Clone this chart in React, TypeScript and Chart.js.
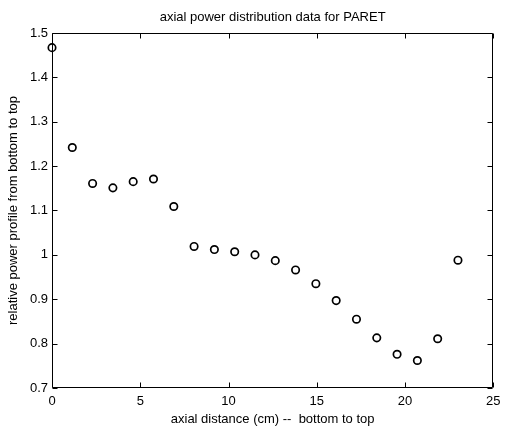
import React, { useEffect, useRef } from "react";
import { Chart, registerables } from "chart.js";

Chart.register(...registerables);

const titleText = "axial power distribution data for PARET";
const xTitle = "axial distance (cm) --  bottom to top";
const yTitle = "relative power profile from bottom to top";

const axialDistance = [0, 1.15, 2.3, 3.45, 4.6, 5.75, 6.9, 8.05, 9.2, 10.35, 11.5, 12.65, 13.8, 14.95, 16.1, 17.25, 18.4, 19.55, 20.7, 21.85, 23.0];
const relativePower = [1.467, 1.242, 1.161, 1.151, 1.165, 1.171, 1.109, 1.019, 1.012, 1.007, 1.0, 0.987, 0.966, 0.935, 0.897, 0.855, 0.813, 0.776, 0.762, 0.811, 0.988];

const xMin = 0;
const xMax = 25;
const xStep = 5;
const yMin = 0.7;
const yMax = 1.5;
const yStep = 0.1;

const FONT = "'Liberation Sans', Arial, Helvetica, sans-serif";

const framePlugin = {
  id: "matlabFrame",
  afterDraw(chart: any) {
    const { ctx, chartArea, scales } = chart;
    const { left, right, top, bottom } = chartArea;
    const xs = scales.x;
    const ys = scales.y;
    const L = Math.round(left) + 0.5;
    const R = Math.round(right) - 0.5;
    const T = Math.round(top) + 0.5;
    const B = Math.round(bottom) - 0.5;
    const tl = 5;
    ctx.save();
    ctx.strokeStyle = "#000";
    ctx.lineWidth = 1;
    ctx.beginPath();
    ctx.rect(L, T, R - L, B - T);
    xs.ticks.forEach((t: any) => {
      const px = Math.round(xs.getPixelForValue(t.value)) + 0.5;
      ctx.moveTo(px, B);
      ctx.lineTo(px, B - tl);
      ctx.moveTo(px, T);
      ctx.lineTo(px, T + tl);
    });
    ys.ticks.forEach((t: any) => {
      const py = Math.round(ys.getPixelForValue(t.value)) + 0.5;
      ctx.moveTo(L, py);
      ctx.lineTo(L + tl, py);
      ctx.moveTo(R, py);
      ctx.lineTo(R - tl, py);
    });
    ctx.stroke();
    ctx.restore();
  },
};

export default function App() {
  const ref = useRef<HTMLCanvasElement | null>(null);

  useEffect(() => {
    if (!ref.current) return;
    const data = axialDistance.map((x, i) => ({ x, y: relativePower[i] }));
    const chart = new Chart(ref.current, {
      type: "scatter",
      data: {
        datasets: [
          {
            data,
            showLine: false,
            pointStyle: "circle",
            pointRadius: 3.7,
            pointBorderWidth: 1.7,
            pointBackgroundColor: "rgba(0,0,0,0)",
            pointBorderColor: "#000",
            clip: false,
          } as any,
        ],
      },
      options: {
        animation: false,
        responsive: false,
        events: [],
        layout: { padding: { left: 0, right: 6, top: 0, bottom: 0 } },
        plugins: {
          legend: { display: false },
          tooltip: { enabled: false },
          title: {
            display: true,
            fullSize: false,
            text: titleText,
            color: "#000",
            font: { family: FONT, size: 13, weight: "normal" },
            padding: { top: 10, bottom: 7.4 },
          },
        },
        scales: {
          x: {
            type: "linear",
            min: xMin,
            max: xMax,
            ticks: {
              stepSize: xStep,
              color: "#000",
              padding: 5.5,
              font: { family: FONT, size: 13 },
              maxRotation: 0,
            },
            grid: { display: false, drawTicks: false },
            border: { display: false },
            title: {
              display: true,
              text: xTitle,
              color: "#000",
              font: { family: FONT, size: 13 },
              padding: { top: 2, bottom: 2 },
            },
            afterFit(scale: any) {
              scale.height = 41;
            },
          },
          y: {
            type: "linear",
            min: yMin,
            max: yMax,
            ticks: {
              stepSize: yStep,
              color: "#000",
              padding: 4,
              font: { family: FONT, size: 13 },
              callback: (v: any) => String(parseFloat(Number(v).toFixed(2))),
            },
            grid: { display: false, drawTicks: false },
            border: { display: false },
            title: {
              display: true,
              text: yTitle,
              color: "#000",
              font: { family: FONT, size: 13 },
              padding: { top: 6, bottom: 6 },
            },
            afterFit(scale: any) {
              scale.width = 52;
            },
          },
        },
      },
      plugins: [framePlugin],
    });
    return () => chart.destroy();
  }, []);

  return (
    <div
      style={{
        position: "fixed",
        left: 0,
        top: 0,
        width: 506,
        height: 429,
        background: "#fff",
      }}
    >
      <canvas ref={ref} width={506} height={429} />
    </div>
  );
}
